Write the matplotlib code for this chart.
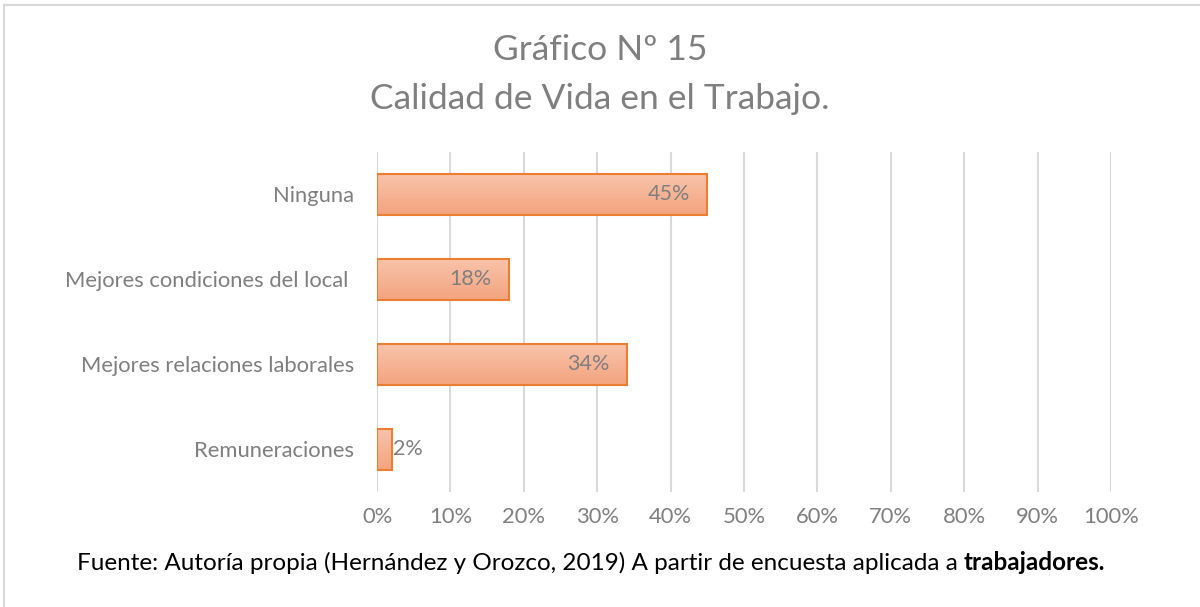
"""Gráfico Nº 15: horizontal bar chart of survey answers."""

import numpy as np
import matplotlib
matplotlib.use('Agg')
import matplotlib.pyplot as plt
from matplotlib.colors import LinearSegmentedColormap
from matplotlib.lines import Line2D

categories = ['Ninguna', 'Mejores condiciones del local ',
              'Mejores relaciones laborales', 'Remuneraciones']
values = [45, 18, 34, 2]
tick_values = list(range(0, 101, 10))

TEXT_GREY = '#7F7F7F'
EDGE = '#ED7D31'
FONT = ['Lato', 'DejaVu Sans']

fig = plt.figure(figsize=(12, 6.07), dpi=100)
ax = fig.add_axes([0.3142, 0.1895, 0.6117, 0.5601])

ypos = np.arange(len(categories))
bars = ax.barh(ypos, values, height=0.48, color='none', edgecolor=EDGE,
               linewidth=1.5, zorder=3)

# vertical gradient fill like the Excel bars
grad = LinearSegmentedColormap.from_list('bar', ['#F8C3AA', '#F3A47F'])
for bar in bars:
    x0, y0 = bar.get_x(), bar.get_y()
    w, h = bar.get_width(), bar.get_height()
    im = ax.imshow(np.linspace(0, 1, 50).reshape(-1, 1), cmap=grad, aspect='auto',
                   extent=(x0, x0 + w, y0 + h, y0), zorder=2, origin='upper')
    im.set_clip_path(bar)

ax.set_xlim(0, 100)
ax.set_ylim(len(categories) - 0.5, -0.5)
ax.set_xticks(tick_values)
ax.set_xticklabels([f'{v}%' for v in tick_values])
ax.set_yticks(ypos)
ax.set_yticklabels(categories)
ax.tick_params(length=0, labelsize=15.8, colors=TEXT_GREY, pad=11)
ax.tick_params(axis='y', pad=16.5)
for lab in ax.get_xticklabels() + ax.get_yticklabels():
    lab.set_family(FONT)
ax.grid(axis='x', color='#D9D9D9', linewidth=1.5, zorder=0)
ax.set_axisbelow(True)
for s in ax.spines.values():
    s.set_visible(False)

for y, v in zip(ypos, values):
    if v >= 10:
        ax.text(v - 2.4, y, f'{v}%', ha='right', va='center', fontsize=15.5,
                color=TEXT_GREY, family=FONT, zorder=4)
    else:
        ax.text(v + 0.2, y, f'{v}%', ha='left', va='center', fontsize=15.5,
                color=TEXT_GREY, family=FONT, zorder=4)

fig.text(0.5, 0.918, 'Gráfico Nº 15', ha='center', va='center', fontsize=25.5,
         color=TEXT_GREY, family=FONT)
fig.text(0.5, 0.837, 'Calidad de Vida en el Trabajo.', ha='center', va='center',
         fontsize=25.5, color=TEXT_GREY, family=FONT)

# source line, last word in bold
src = fig.text(0.064, 0.073, 'Fuente: Autoría propia (Hernández y Orozco, 2019) '
               'A partir de encuesta aplicada a ', ha='left', va='center',
               fontsize=17.5, color='black', family=FONT)
ax.annotate('trabajadores.', xy=(1, 0.5), xycoords=src, ha='left', va='center',
            fontsize=17.5, color='black', family=FONT, fontweight='bold',
            annotation_clip=False)

# frame edges of the original chart area (top and left only)
fig.add_artist(Line2D([0.0035, 1.0], [0.9915, 0.9915], color='#D9D9D9',
                      linewidth=1.5, transform=fig.transFigure))
fig.add_artist(Line2D([0.0035, 0.0035], [0.0, 0.9915], color='#D9D9D9',
                      linewidth=1.5, transform=fig.transFigure))

fig.savefig('out.png', dpi=100, facecolor='white')
